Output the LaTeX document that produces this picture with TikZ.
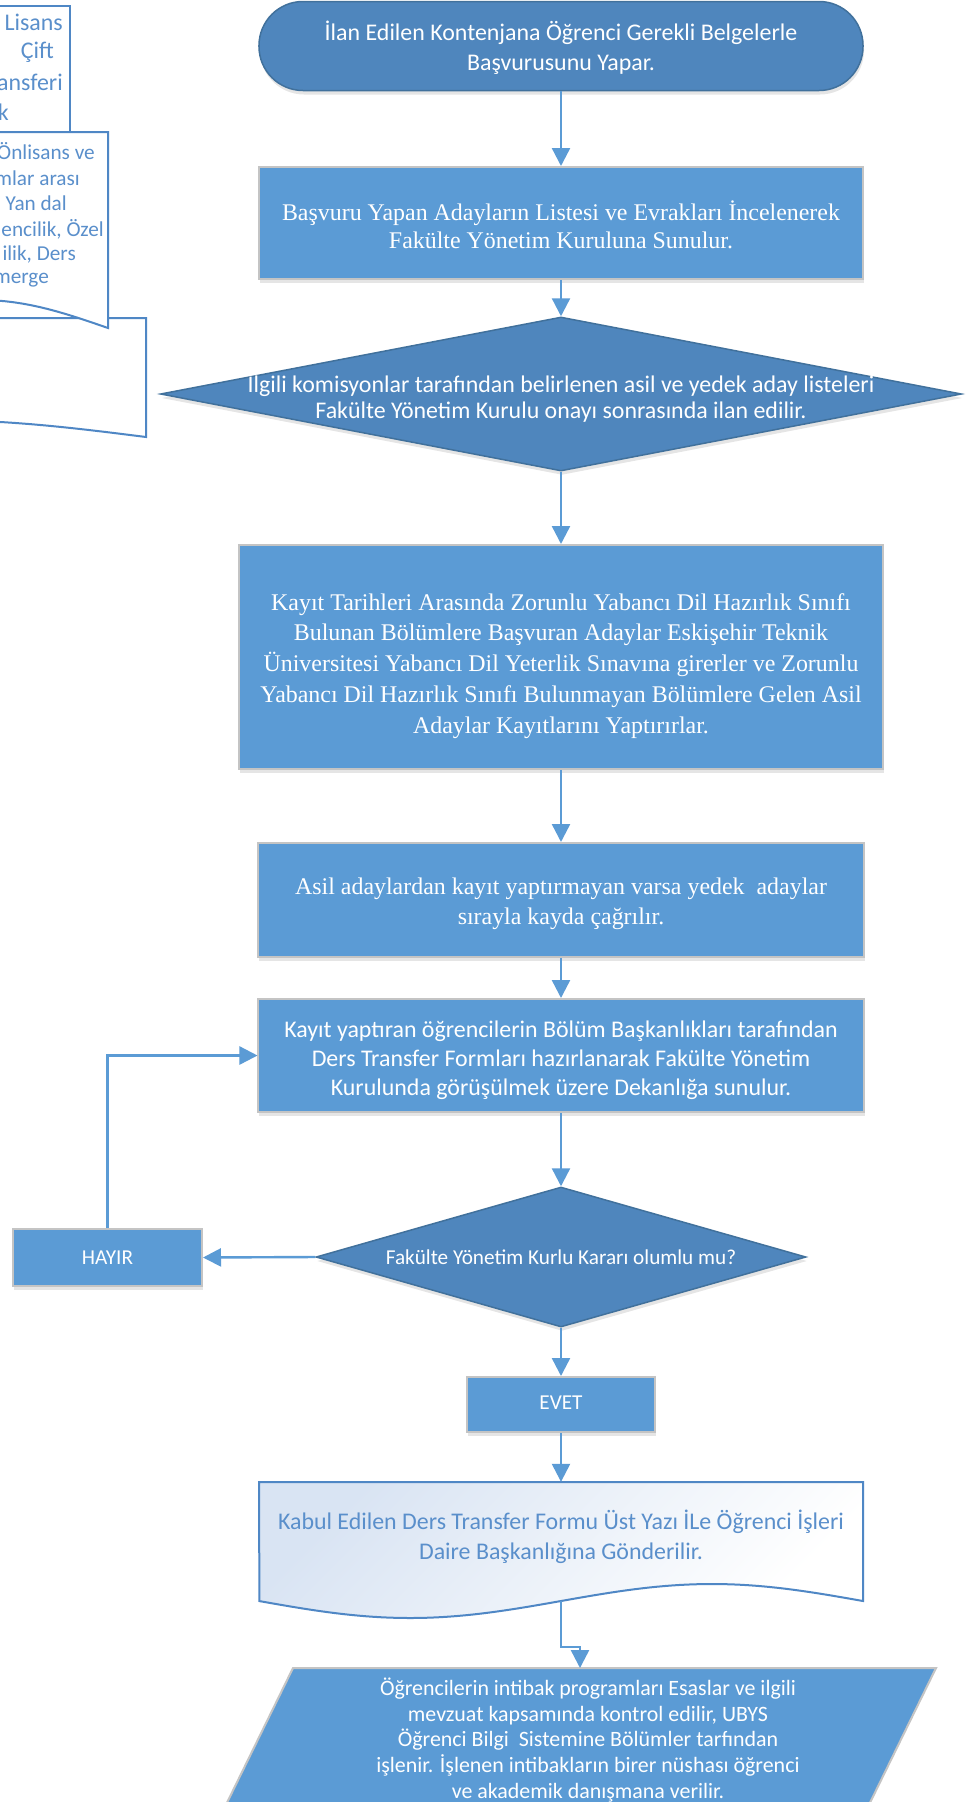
\documentclass[tikz,border=0pt]{standalone}
\usepackage{fontspec}
\newfontfamily\calfont{Carlito}
\newfontfamily\serfont{Liberation Serif}
\usetikzlibrary{arrows.meta,shapes.geometric,shadows}
\definecolor{boxfill}{HTML}{5B9BD5}
\definecolor{boxedge}{HTML}{C4C4C4}
\definecolor{darkfill}{HTML}{4F86BD}
\definecolor{darkedge}{HTML}{41719C}
\definecolor{linkblue}{HTML}{5B9BD5}
\definecolor{docedge}{HTML}{4F87C5}
\definecolor{doctext}{HTML}{5A8FCB}
\definecolor{docshade}{HTML}{D9E4F3}

\begin{document}
\begin{tikzpicture}[x=1bp,y=-1bp,
  shad/.style={drop shadow={shadow xshift=1bp,shadow yshift=-4bp,opacity=0.10,fill=black}},
  procbox/.style={rectangle,draw=boxedge,line width=2bp,fill=boxfill,inner sep=0pt,shad},
  darkbox/.style={draw=darkedge,line width=1.5bp,fill=darkfill,inner sep=0pt,shad},
  decision/.style={diamond,darkbox},
  sans/.style={font=\calfont\fontsize{24}{#1}\selectfont},
  sanssmall/.style={font=\calfont\fontsize{21.3}{#1}\selectfont},
  serif/.style={font=\serfont\fontsize{24}{#1}\selectfont},
  whitetext/.style={text=white,align=center,inner sep=0pt},
  doctxt/.style={text=doctext,inner sep=0pt,anchor=east,font=\calfont\fontsize{21.3}{26}\selectfont},
  docshape/.style={draw=docedge,line width=2bp},
  link/.style={draw=linkblue,line width=2.4bp,-{Triangle[length=18bp,width=18bp]}},
]
\useasboundingbox (0,0) rectangle (976,1802);
\clip (0,0) rectangle (976,1802);
\fill[white] (0,0) rectangle (976,1802);

% documents at the left margin, partly outside the page
\path[docshape,fill=white] (-400,6) -- (70,6) -- (70,145) -- (-400,145) -- cycle;
\path[docshape,fill=white] (-700,318) -- (146,318) -- (146,437)
  -- plot[domain=1:0,samples=60] ({-700+846*\x},{437+17*sin(360*\x)}) -- cycle;
\path[docshape,fill=white] (-400,132) -- (108,132) -- (108,328)
  -- plot[domain=1:0,samples=60] ({-400+508*\x},{328+28*sin(360*\x)}) -- cycle;

\node[doctxt,font=\calfont\fontsize{24}{30}\selectfont] (la1) at (63,22) {Lisans};
\node[doctxt,font=\calfont\fontsize{24}{30}\selectfont] (la2) at (54,52) {Çift};
\node[doctxt,font=\calfont\fontsize{24}{30}\selectfont] (la3) at (63,82) {ansferi};
\node[doctxt,font=\calfont\fontsize{24}{30}\selectfont] (la4) at (9,112) {k};
\node[doctxt] (lb1) at (95,151) {Önlisans ve};
\node[doctxt] (lb2) at (80,178) {mlar arası};
\node[doctxt] (lb3) at (67,203) {Yan dal};
\node[doctxt] (lb4) at (104,229) {encilik, Özel};
\node[doctxt] (lb5) at (76,254) {ilik, Ders};
\node[doctxt] (lb6) at (49,280) {merge};

% main column: shapes
\node[darkbox,rectangle,rounded corners=44bp,minimum width=604bp,minimum height=89bp] (term) at (561,46) {};
\node[procbox,minimum width=604bp,minimum height=112bp] (box2) at (561,223) {};
\node[decision,minimum width=801bp,minimum height=154bp] (dia1) at (561,394) {};
\node[procbox,minimum width=643bp,minimum height=224bp] (box3) at (561,657) {};
\node[procbox,minimum width=605bp,minimum height=114bp] (box4) at (561,900) {};
\node[procbox,minimum width=605bp,minimum height=113bp] (box5) at (561,1055.5) {};
\node[decision,minimum width=490bp,minimum height=140bp] (dia2) at (561,1257) {};
\node[procbox,minimum width=189bp,minimum height=57bp] (hayir) at (107.5,1257.5) {};
\node[procbox,minimum width=188bp,minimum height=55bp] (evet) at (561,1404.5) {};

% document with wavy bottom
\path[docshape,top color=docshade,bottom color=white,shading angle=45]
  (259,1482) -- (863,1482) -- (863,1601)
  -- plot[domain=1:0,samples=80] ({259+604*\x},{1601+17*sin(360*\x)}) -- cycle;
\node[minimum width=604bp,minimum height=119bp,inner sep=0pt] (doc) at (561,1541.5) {};

% input/output parallelogram
\path[draw=boxedge,line width=2bp,fill=boxfill] (293,1668) -- (936,1668) -- (867.4,1808) -- (224.4,1808) -- cycle;
\coordinate (paratop) at (580,1668);
\coordinate (jog) at (580,1647);

% texts
\node[whitetext,sans=30] (termtext) at (561,48)
  {İlan Edilen Kontenjana Öğrenci Gerekli Belgelerle\\Başvurusunu Yapar.};
\node[whitetext,serif=28] (box2text) at (561,225)
  {Başvuru Yapan Adayların Listesi ve Evrakları İncelenerek\\Fakülte Yönetim Kuruluna Sunulur.};
\node[whitetext,sans=26] (dia1text) at (561,399)
  {Ilgili komisyonlar tarafından belirlenen asil ve yedek aday listeleri\\Fakülte Yönetim Kurulu onayı sonrasında ilan edilir.};
\node[whitetext,serif=31] (box3text) at (561,666)
  {Kayıt Tarihleri Arasında Zorunlu Yabancı Dil Hazırlık Sınıfı\\
  Bulunan Bölümlere Başvuran Adaylar Eskişehir Teknik\\
  Üniversitesi Yabancı Dil Yeterlik Sınavına girerler ve Zorunlu\\
  Yabancı Dil Hazırlık Sınıfı Bulunmayan Bölümlere Gelen Asil\\
  Adaylar Kayıtlarını Yaptırırlar.};
\node[whitetext,serif=30] (box4text) at (561,904)
  {Asil adaylardan kayıt yaptırmayan varsa yedek~ adaylar\\sırayla kayda çağrılır.};
\node[whitetext,sans=29] (box5text) at (561,1060)
  {Kayıt yaptıran öğrencilerin Bölüm Başkanlıkları tarafından\\
  Ders Transfer Formları hazırlanarak Fakülte Yönetim\\
  Kurulunda görüşülmek üzere Dekanlığa sunulur.};
\node[whitetext,sanssmall=26] (dia2text) at (561,1257) {Fakülte Yönetim Kurlu Kararı olumlu mu?};
\node[whitetext,sanssmall=26] (hayirtext) at (hayir) {HAYIR};
\node[whitetext,sanssmall=26] (evettext) at (561,1403) {EVET};
\node[text=doctext,align=center,inner sep=0pt,sans=30] (doctext) at (561,1537)
  {Kabul Edilen Ders Transfer Formu Üst Yazı İLe Öğrenci İşleri\\Daire Başkanlığına Gönderilir.};
\node[whitetext,font=\calfont\fontsize{22}{25.7}\selectfont] (para) at (588,1740)
  {Öğrencilerin intibak programları Esaslar ve ilgili\\
  mevzuat kapsamında kontrol edilir, UBYS\\
  Öğrenci Bilgi~ Sistemine Bölümler tarfından\\
  işlenir. İşlenen intibakların birer nüshası öğrenci\\
  ve akademik danışmana verilir.};

% connectors
\draw[link] (term.south) -- (box2.north);
\draw[link] (box2.south) -- (dia1.north);
\draw[link] (dia1.south) -- (box3.north);
\draw[link] (box3.south) -- (box4.north);
\draw[link] (box4.south) -- (box5.north);
\draw[link] (box5.south) -- (dia2.north);
\draw[link] (dia2.west) -- (hayir.east);
\draw[link] (hayir.north) |- (box5.west);
\draw[link] (dia2.south) -- (evet.north);
\draw[link] (evet.south) -- (doc.north);
\draw[link] (doc.south) |- (jog) -- (paratop);
\end{tikzpicture}
\end{document}
